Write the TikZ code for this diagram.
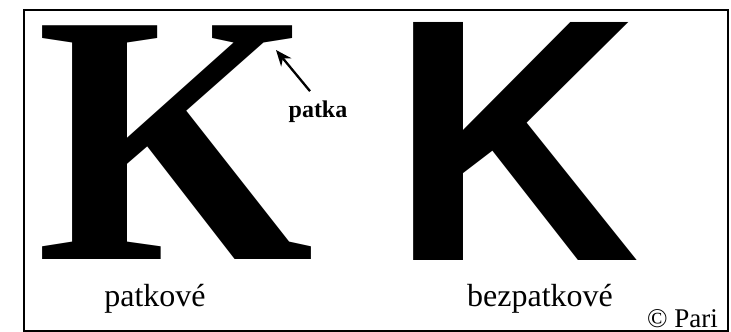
\documentclass[tikz,border=0pt]{standalone}
\usepackage{fontspec}
\setmainfont{Liberation Serif}
\newfontfamily\glyphSans{Liberation Sans}
\usetikzlibrary{positioning,arrows.meta}
\tikzset{
  big glyph/.style={
    inner sep=0pt, anchor=base,
    font=#1,
  },
  caption text/.style={
    inner sep=0pt, anchor=base,
    font=\fontsize{32}{32}\selectfont,
  },
  pointer/.style={
    line width=2.3pt,
    -{Stealth[length=16pt,width=13pt]},
  },
}

\begin{document}
\begin{tikzpicture}[x=1pt,y=-1pt]
\useasboundingbox (0,0) rectangle (731,332);

% --- outer frame ---
\node[draw, line width=1.8pt, inner sep=0pt,
      minimum width=704pt, minimum height=321pt,
      anchor=north west]
  (frame) at (23,9) {};

% --- the two letters ---
\node[big glyph=\fontsize{357}{357}\selectfont\bfseries]
  (kSerif) at (175,259) {K};
\node[big glyph=\fontsize{346}{346}\selectfont\glyphSans\bfseries]
  (kSans) at (515,260) {K};

% --- captions ---
\node[caption text] (capSerif) at (155,306) {patkové};
\node[caption text] (capSans) at (540,306) {bezpatkové};
\node[inner sep=0pt, anchor=base east, font=\fontsize{27}{27}\selectfont]
  (copy) at (718,327) {© Pari};

% --- pointer to the serif ---
\node[inner sep=0pt, anchor=base, font=\fontsize{24}{24}\selectfont\bfseries]
  (patka) at (318,117) {patka};
\coordinate (serifTip) at (276,50);
\draw[pointer] ([xshift=-8pt,yshift=9pt]patka.north) -- (serifTip);

\end{tikzpicture}
\end{document}
